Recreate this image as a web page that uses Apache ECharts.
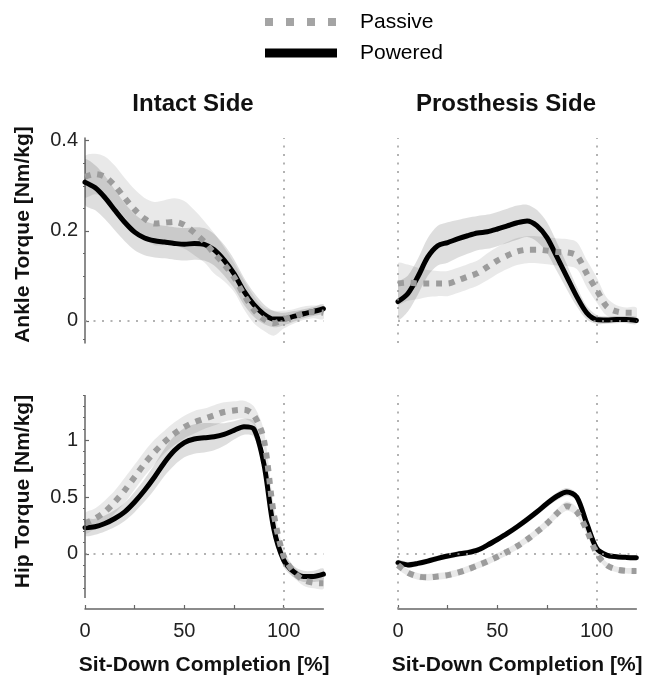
<!DOCTYPE html>
<html>
<head>
<meta charset="utf-8">
<script src="https://cdn.jsdelivr.net/npm/echarts@6/dist/echarts.min.js"></script>
<style>
  html, body { margin: 0; padding: 0; background: #fff; }
  #chart { width: 649px; height: 683px; }
</style>
</head>
<body>
<div id="chart"></div>
<script>
// Sit-down completion [%] at which every curve is sampled
const completion = [0, 5, 10, 15, 20, 25, 30, 35, 40, 45, 50, 55, 60, 65, 70, 75, 80, 85, 90, 95, 100, 105, 110, 115, 120];

// Ankle torque [Nm/kg], intact side
const ankleIntactPowered   = [0.308, 0.296, 0.274, 0.246, 0.219, 0.197, 0.184, 0.178, 0.175, 0.172, 0.170, 0.172, 0.170, 0.158, 0.135, 0.105, 0.066, 0.036, 0.015, 0.004, 0.004, 0.010, 0.016, 0.021, 0.027];
const ankleIntactPoweredSd = [0.050, 0.050, 0.048, 0.045, 0.042, 0.040, 0.038, 0.037, 0.036, 0.036, 0.036, 0.036, 0.036, 0.035, 0.034, 0.032, 0.030, 0.027, 0.022, 0.018, 0.014, 0.012, 0.010, 0.010, 0.010];
const ankleIntactPassive   = [0.320, 0.326, 0.320, 0.300, 0.273, 0.247, 0.227, 0.216, 0.218, 0.220, 0.213, 0.196, 0.176, 0.150, 0.126, 0.097, 0.058, 0.025, 0.004, -0.005, 0.003, 0.010, 0.017, 0.020, 0.018];
const ankleIntactPassiveSd = [0.045, 0.045, 0.045, 0.045, 0.044, 0.045, 0.046, 0.048, 0.050, 0.052, 0.053, 0.050, 0.046, 0.045, 0.038, 0.032, 0.032, 0.030, 0.026, 0.028, 0.020, 0.016, 0.015, 0.014, 0.014];

// Ankle torque [Nm/kg], prosthesis side
const ankleProsPowered   = [0.043, 0.061, 0.098, 0.142, 0.167, 0.174, 0.182, 0.189, 0.195, 0.198, 0.204, 0.211, 0.218, 0.222, 0.211, 0.185, 0.142, 0.098, 0.054, 0.018, 0.003, 0.002, 0.003, 0.003, 0.001];
const ankleProsPoweredSd = [0.040, 0.040, 0.040, 0.042, 0.044, 0.045, 0.042, 0.040, 0.038, 0.038, 0.038, 0.038, 0.038, 0.036, 0.035, 0.034, 0.032, 0.028, 0.022, 0.015, 0.010, 0.008, 0.008, 0.008, 0.008];
const ankleProsPassive   = [0.083, 0.085, 0.083, 0.083, 0.083, 0.083, 0.090, 0.098, 0.106, 0.120, 0.134, 0.145, 0.154, 0.158, 0.158, 0.156, 0.153, 0.152, 0.145, 0.105, 0.069, 0.032, 0.021, 0.018, 0.018];
const ankleProsPassiveSd = [0.045, 0.040, 0.035, 0.030, 0.028, 0.028, 0.028, 0.028, 0.028, 0.030, 0.030, 0.030, 0.030, 0.030, 0.030, 0.030, 0.030, 0.030, 0.030, 0.030, 0.028, 0.020, 0.014, 0.012, 0.012];

// Hip torque [Nm/kg], intact side
const hipIntactPowered   = [0.230, 0.238, 0.267, 0.311, 0.370, 0.457, 0.560, 0.677, 0.805, 0.910, 0.980, 1.012, 1.023, 1.032, 1.052, 1.088, 1.120, 1.100, 0.795, 0.223, -0.056, -0.158, -0.200, -0.200, -0.180];
const hipIntactPoweredSd = [0.070, 0.070, 0.070, 0.075, 0.080, 0.090, 0.100, 0.110, 0.120, 0.130, 0.130, 0.130, 0.130, 0.120, 0.100, 0.080, 0.070, 0.070, 0.080, 0.080, 0.060, 0.050, 0.050, 0.050, 0.050];
const hipIntactPassive   = [0.267, 0.310, 0.370, 0.457, 0.560, 0.677, 0.795, 0.897, 0.985, 1.059, 1.117, 1.160, 1.190, 1.220, 1.250, 1.264, 1.270, 1.220, 1.010, 0.355, -0.020, -0.158, -0.232, -0.255, -0.260];
const hipIntactPassiveSd = [0.090, 0.090, 0.100, 0.100, 0.110, 0.110, 0.110, 0.110, 0.100, 0.100, 0.100, 0.100, 0.090, 0.090, 0.085, 0.080, 0.080, 0.080, 0.080, 0.080, 0.060, 0.050, 0.050, 0.050, 0.050];

// Hip torque [Nm/kg], prosthesis side
const hipProsPowered   = [-0.079, -0.098, -0.085, -0.065, -0.041, -0.020, -0.003, 0.010, 0.032, 0.076, 0.126, 0.179, 0.238, 0.302, 0.370, 0.443, 0.507, 0.545, 0.500, 0.267, 0.047, -0.012, -0.026, -0.032, -0.035];
const hipProsPoweredSd = [0.025, 0.025, 0.025, 0.025, 0.025, 0.025, 0.025, 0.025, 0.025, 0.025, 0.025, 0.027, 0.028, 0.030, 0.030, 0.032, 0.034, 0.035, 0.032, 0.028, 0.025, 0.022, 0.020, 0.020, 0.020];
const hipProsPassive   = [-0.100, -0.167, -0.200, -0.208, -0.200, -0.188, -0.167, -0.138, -0.103, -0.068, -0.026, 0.018, 0.067, 0.126, 0.194, 0.267, 0.355, 0.420, 0.370, 0.208, 0.003, -0.100, -0.138, -0.150, -0.152];
const hipProsPassiveSd = [0.030, 0.030, 0.030, 0.030, 0.030, 0.030, 0.030, 0.030, 0.030, 0.030, 0.030, 0.030, 0.030, 0.032, 0.034, 0.036, 0.038, 0.040, 0.038, 0.035, 0.030, 0.028, 0.025, 0.025, 0.025];

// Axis ticks and labels
const ankleTicks      = [0, 0.2, 0.4];
const ankleMinorTicks = [-0.04, 0.05, 0.1, 0.15, 0.25, 0.3, 0.35];
const hipTicks        = [0, 0.5, 1];
const hipMinorTicks   = [-0.3, -0.2, -0.1, 0.1, 0.2, 0.3, 0.4, 0.6, 0.7, 0.8, 0.9, 1.1, 1.2, 1.3, 1.4];
const completionTicks = [0, 25, 50, 75, 100];
const completionLabels = [0, 50, 100];

const ankleRange = [-0.049, 0.406];
const hipRange   = [-0.487, 1.40];
const hipAxisBottom = -0.39;

const FONT = '"Liberation Sans", Arial, Helvetica, sans-serif';
const AXIS_GREY = '#666';
const REF_GREY = '#9a9a9a';
const PASSIVE_GREY = '#9c9c9c';
const PASSIVE_BAND = 'rgba(0,0,0,0.085)';
const POWERED_BAND = 'rgba(0,0,0,0.13)';
const CURVE_SMOOTH = 0.3;

const panels = [
  { grid: { left: 85,  top: 138, width: 238.4, height: 205 }, range: ankleRange, ticks: ankleTicks, leftAxis: true,  xAxisShown: false, zeroVertical: false,
    powered: ankleIntactPowered, poweredSd: ankleIntactPoweredSd, passive: ankleIntactPassive, passiveSd: ankleIntactPassiveSd },
  { grid: { left: 398, top: 138, width: 238.4, height: 205 }, range: ankleRange, ticks: ankleTicks, leftAxis: false, xAxisShown: false, zeroVertical: true,
    powered: ankleProsPowered, poweredSd: ankleProsPoweredSd, passive: ankleProsPassive, passiveSd: ankleProsPassiveSd },
  { grid: { left: 85,  top: 395, width: 238.4, height: 214 }, range: hipRange, ticks: hipTicks, leftAxis: true,  xAxisShown: true, zeroVertical: false, splitAxis: true,
    powered: hipIntactPowered, poweredSd: hipIntactPoweredSd, passive: hipIntactPassive, passiveSd: hipIntactPassiveSd },
  { grid: { left: 398, top: 395, width: 238.4, height: 214 }, range: hipRange, ticks: hipTicks, leftAxis: false, xAxisShown: true, zeroVertical: true,
    powered: hipProsPowered, poweredSd: hipProsPoweredSd, passive: hipProsPassive, passiveSd: hipProsPassiveSd }
];

const grids = [], xAxes = [], yAxes = [], series = [];

panels.forEach(function (p, i) {
  grids.push(Object.assign({ containLabel: false, outerBoundsMode: 'none' }, p.grid));

  xAxes.push({
    gridIndex: i, type: 'value', min: 0, max: 120, show: p.xAxisShown,
    axisLine: { show: true, onZero: false, lineStyle: { color: AXIS_GREY, width: 1.5 } },
    axisTick: { show: true, inside: true, length: 4, customValues: completionTicks, lineStyle: { color: AXIS_GREY, width: 1.2 } },
    axisLabel: { show: true, customValues: completionLabels, margin: 12, fontSize: 20, fontFamily: FONT, color: '#222' },
    splitLine: { show: false },
    name: 'Sit-Down Completion [%]', nameLocation: 'middle', nameGap: 46,
    nameTextStyle: { fontSize: 21, fontWeight: 'bold', fontFamily: FONT, color: '#111' }
  });

  yAxes.push({
    gridIndex: i, type: 'value', min: p.range[0], max: p.range[1], show: p.leftAxis,
    axisLine: { show: p.leftAxis && !p.splitAxis, onZero: false, lineStyle: { color: AXIS_GREY, width: 1.5 } },
    axisTick: { show: true, inside: true, length: 4, customValues: p.ticks, lineStyle: { color: AXIS_GREY, width: 1.2 } },
    axisLabel: { show: true, customValues: p.ticks, margin: 7, fontSize: 20, fontFamily: FONT, color: '#222' },
    splitLine: { show: false }
  });
});

// Fine ticks along the two labelled torque axes
[[0, ankleRange, ankleMinorTicks], [2, hipRange, hipMinorTicks]].forEach(function (m) {
  yAxes.push({
    gridIndex: m[0], type: 'value', min: m[1][0], max: m[1][1],
    axisLine: { show: false }, axisLabel: { show: false }, splitLine: { show: false },
    axisTick: { show: true, inside: true, length: 2, customValues: m[2], lineStyle: { color: AXIS_GREY, width: 1 } }
  });
});

function zip(ys) { return completion.map(function (x, k) { return [x, ys[k]]; }); }

// Shaded ±1 SD band drawn as one smoothed polygon through the axis scales
function band(i, mean, sd, fill, name) {
  return {
    type: 'custom', name: name, xAxisIndex: i, yAxisIndex: i, z: 1, silent: true, clip: true,
    data: completion.map(function (x, k) { return [x, mean[k] - sd[k], mean[k] + sd[k]]; }),
    encode: { x: 0, y: [1, 2] },
    renderItem: function (params, api) {
      if (params.dataIndex !== 0) return null;
      const upper = completion.map(function (x, k) { return api.coord([x, mean[k] + sd[k]]); });
      const lower = completion.map(function (x, k) { return api.coord([x, mean[k] - sd[k]]); }).reverse();
      return { type: 'polygon', shape: { points: upper.concat(lower), smooth: 0.3 }, style: { fill: fill } };
    }
  };
}

const refLine = { type: [2, 6.5], color: REF_GREY, width: 1.5 };

panels.forEach(function (p, i) {
  series.push(band(i, p.passive, p.passiveSd, PASSIVE_BAND, 'Passive SD'));
  series.push(band(i, p.powered, p.poweredSd, POWERED_BAND, 'Powered SD'));

  const marks = [{ yAxis: 0 }, { xAxis: 100 }];
  if (p.zeroVertical) marks.push({ xAxis: 0 });
  if (p.splitAxis) {
    marks.push([
      { coord: [0, hipAxisBottom], lineStyle: { type: 'solid', color: AXIS_GREY, width: 1.5 } },
      { coord: [0, p.range[1]] }
    ]);
  }
  series.push({
    type: 'line', name: 'reference', xAxisIndex: i, yAxisIndex: i, data: [], z: 2, silent: true,
    markLine: { silent: true, symbol: 'none', animation: false, label: { show: false }, lineStyle: refLine, data: marks }
  });

  series.push({
    type: 'line', name: 'Powered', xAxisIndex: i, yAxisIndex: i, z: 3,
    data: zip(p.powered), showSymbol: false, smooth: CURVE_SMOOTH,
    lineStyle: { color: '#000', width: 5, cap: 'round', join: 'round' }
  });
  series.push({
    type: 'line', name: 'Passive', xAxisIndex: i, yAxisIndex: i, z: 4,
    data: zip(p.passive), showSymbol: false, smooth: CURVE_SMOOTH,
    lineStyle: { color: PASSIVE_GREY, width: 6, type: [6, 6.7], cap: 'butt' }
  });
});

function text(x, y, str, size, weight, extra) {
  return Object.assign({
    type: 'text', x: x, y: y, silent: true,
    style: { text: str, font: weight + ' ' + size + 'px ' + FONT, fill: '#111',
             align: 'center', verticalAlign: 'middle', textAlign: 'center', textVerticalAlign: 'middle' }
  }, extra || {});
}

const graphic = [
  // Legend
  { type: 'rect', shape: { x: 265, y: 18, width: 8, height: 8 }, style: { fill: '#a4a4a4' }, silent: true },
  { type: 'rect', shape: { x: 286, y: 18, width: 8, height: 8 }, style: { fill: '#a4a4a4' }, silent: true },
  { type: 'rect', shape: { x: 307, y: 18, width: 8, height: 8 }, style: { fill: '#a4a4a4' }, silent: true },
  { type: 'rect', shape: { x: 328, y: 18, width: 8, height: 8 }, style: { fill: '#a4a4a4' }, silent: true },
  { type: 'rect', shape: { x: 265, y: 48.5, width: 72, height: 9 }, style: { fill: '#000' }, silent: true },
  { type: 'text', x: 360, y: 22, silent: true, style: { text: 'Passive', font: '21px ' + FONT, fill: '#000', align: 'left', verticalAlign: 'middle', textAlign: 'left', textVerticalAlign: 'middle' } },
  { type: 'text', x: 360, y: 53, silent: true, style: { text: 'Powered', font: '21px ' + FONT, fill: '#000', align: 'left', verticalAlign: 'middle', textAlign: 'left', textVerticalAlign: 'middle' } },
  // Column titles
  text(193, 104, 'Intact Side', 24, 'bold'),
  text(506, 104, 'Prosthesis Side', 24, 'bold'),
  // Row titles
  text(23, 234.5, 'Ankle Torque [Nm/kg]', 21, 'bold', { rotation: Math.PI / 2 }),
  text(23, 491.5, 'Hip Torque [Nm/kg]', 21, 'bold', { rotation: Math.PI / 2 })
];

const chart = echarts.init(document.getElementById('chart'), null, { renderer: 'canvas' });
chart.setOption({
  animation: false,
  backgroundColor: '#ffffff',
  textStyle: { fontFamily: FONT },
  grid: grids,
  xAxis: xAxes,
  yAxis: yAxes,
  series: series,
  graphic: graphic
});
</script>
</body>
</html>
